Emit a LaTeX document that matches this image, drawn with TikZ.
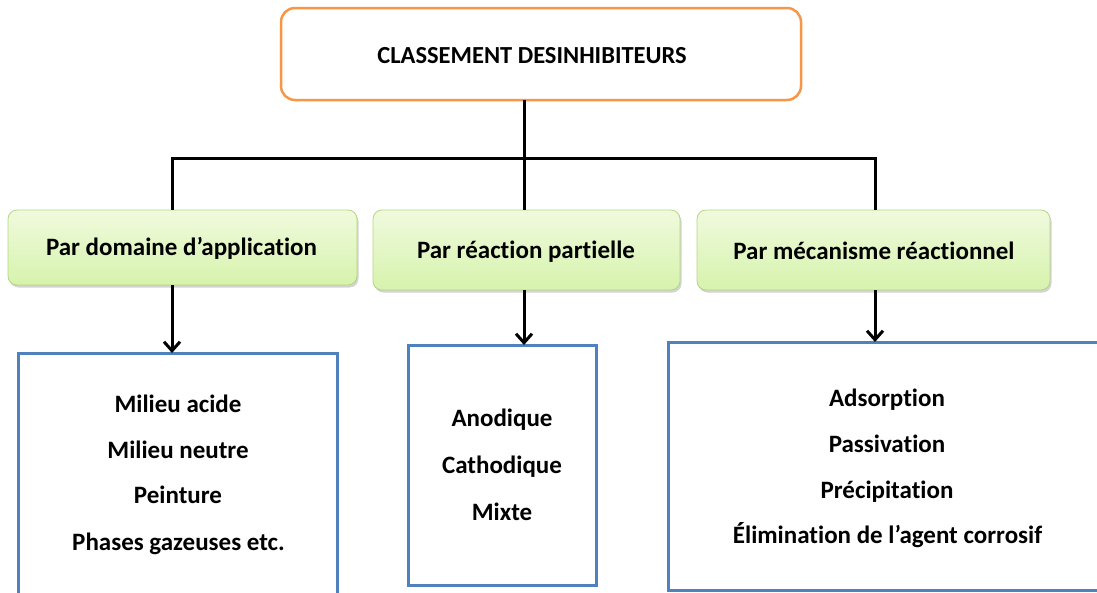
\documentclass[tikz,border=0pt]{standalone}
\usepackage{fontspec}
\setmainfont{Carlito}[Ligatures=NoCommon]
\usetikzlibrary{arrows.meta,shadows}
\definecolor{orangeb}{RGB}{247,150,70}
\definecolor{blueb}{RGB}{79,129,189}
\definecolor{greentop}{RGB}{240,250,222}
\definecolor{greenbot}{RGB}{214,243,172}
\definecolor{greenedge}{RGB}{180,214,128}
\tikzset{
  topbox/.style={draw=orangeb, line width=2.5pt, rounded corners=14pt, fill=white},
  catbox/.style={draw=greenedge, line width=0.8pt, rounded corners=9pt, top color=greentop, bottom color=greenbot,
    drop shadow={shadow xshift=1.5pt, shadow yshift=-2.5pt, opacity=0.35}},
  itembox/.style={draw=blueb, line width=3pt, fill=white},
  conn/.style={line width=3pt, black},
  arr/.style={conn, -{Straight Barb[length=9pt,width=16pt,line width=3pt]}},
  lbl/.style={font=\bfseries\fontsize{25}{29}\selectfont, inner sep=0pt, anchor=base},
  item/.style={font=\bfseries\fontsize{25}{29}\selectfont, inner sep=0pt, anchor=base},
}
\begin{document}
\begin{tikzpicture}[x=1pt,y=-1pt]
\useasboundingbox (0,0) rectangle (1097,592);
\clip (0,0) rectangle (1097,592);
% top box
\draw[topbox] (281,8) rectangle (801,100);
\node[font=\bfseries\fontsize{24.5}{28}\selectfont, inner sep=0pt, anchor=base] (top) at (532,63) {CLASSEMENT DESINHIBITEURS};
\coordinate (topb) at (524,100);
% category boxes
\draw[catbox] (8,210) rectangle (357,285);
\draw[catbox] (373,210) rectangle (680,290);
\draw[catbox] (697,210) rectangle (1050,290);
\node[lbl] (c1) at (181.5,255) {Par domaine d’application};
\node[lbl] (c2) at (526,258) {Par réaction partielle};
\node[lbl] (c3) at (874,259) {Par mécanisme réactionnel};
\coordinate (c1t) at (172,210); \coordinate (c1b) at (172,285);
\coordinate (c2t) at (524,210); \coordinate (c2b) at (524,290);
\coordinate (c3t) at (875,210); \coordinate (c3b) at (875,290);
% item boxes
\draw[itembox] (18,353) rectangle (337,596);
\draw[itembox] (408,345) rectangle (596,585);
\draw[itembox] (668,342) rectangle (1105,590);
\coordinate (i1t) at (172,353);
\coordinate (i2t) at (524,345);
\coordinate (i3t) at (875,342);
% connectors
\coordinate (junc) at (524,158);
\draw[conn] (topb) -- (junc);
\draw[conn] (c1t) |- (junc) -| (c3t);
\draw[conn] (junc) -- (c2t);
\draw[arr] (c1b) -- (i1t);
\draw[arr] (c2b) -- (i2t);
\draw[arr] (c3b) -- (i3t);
% items
\node[item] (a1) at (178,412) {Milieu acide};
\node[item] (a2) at (178,458) {Milieu neutre};
\node[item] (a3) at (178,503) {Peinture};
\node[item] (a4) at (178.5,550) {Phases gazeuses etc.};
\node[item] (b1) at (502,426) {Anodique};
\node[item] (b2) at (502,473) {Cathodique};
\node[item] (b3) at (502,520) {Mixte};
\node[item] (d1) at (887,406) {Adsorption};
\node[item] (d2) at (887,452) {Passivation};
\node[item] (d3) at (887,498) {Précipitation};
\node[item] (d4) at (887.5,543) {Élimination de l’agent corrosif};
\end{tikzpicture}
\end{document}
